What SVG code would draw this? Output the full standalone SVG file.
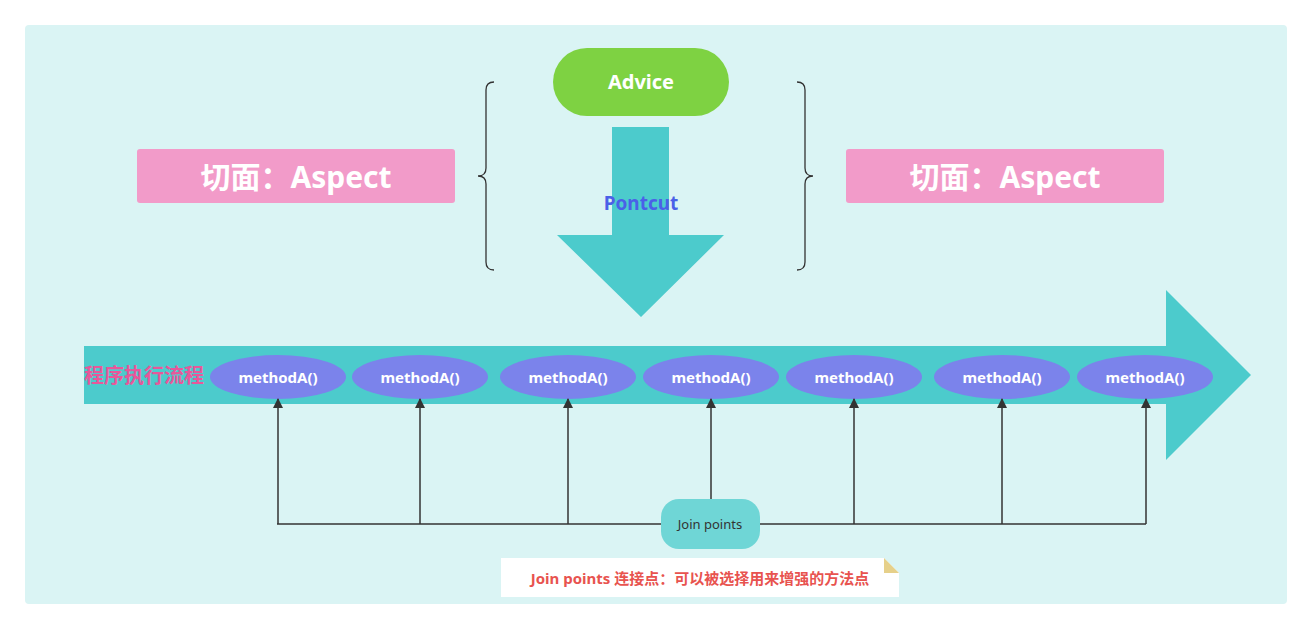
<svg xmlns="http://www.w3.org/2000/svg" width="1312" height="629" viewBox="0 0 1312 629">
<defs>
<style>
.m{fill:#7b83eb}
.mt{font-family:"Noto Sans","Liberation Sans",sans-serif;font-weight:bold;font-size:15px;fill:#ffffff;text-anchor:middle}
.asp{fill:#f29bc9}
.at{font-family:"Noto Sans","Noto Sans CJK SC",sans-serif;font-weight:bold;font-size:30px;fill:#ffffff;text-anchor:middle}
.c{stroke:#333333;stroke-width:1.5;fill:none}
.br{stroke:#333333;stroke-width:1.3;fill:none}
</style>
<marker id="ah" viewBox="0 0 10 10" refX="9" refY="5" markerWidth="10" markerHeight="10" markerUnits="userSpaceOnUse" orient="auto">
<path d="M0,0 L10,5 L0,10 z" fill="#333333"/>
</marker>
</defs>
<rect width="1312" height="629" fill="#ffffff"/>
<rect x="25" y="25" width="1262" height="579" rx="4" fill="#daf4f4"/>

<g id="flow">
<polygon points="84,346 1166,346 1166,290 1251,375 1166,460 1166,404 84,404" fill="#4ccbcc"/>
<text x="84" y="383" font-family="Noto Sans CJK SC,sans-serif" font-weight="bold" font-size="20" fill="#e8579a">程序执行流程</text>
</g>

<g id="pointcut">
<polygon points="612,127 669,127 669,235 724,235 641,317 557,235 612,235" fill="#4ccbcc"/>
<text x="641" y="210" font-family="Noto Sans,Liberation Sans,sans-serif" font-weight="bold" font-size="19" fill="#4a60e8" text-anchor="middle">Pontcut</text>
</g>

<g id="advice">
<rect x="553" y="48" width="176" height="68" rx="34" fill="#7ed242"/>
<text x="641" y="89" font-family="Noto Sans,Liberation Sans,sans-serif" font-weight="bold" font-size="20" fill="#ffffff" text-anchor="middle">Advice</text>
</g>

<g id="braces">
<path class="br" d="M494,82 Q486,82 486,90 L486,168 Q486,176 478,176 Q486,176 486,184 L486,262 Q486,270 494,270"/>
<path class="br" d="M797,82 Q805,82 805,90 L805,168 Q805,176 813,176 Q805,176 805,184 L805,262 Q805,270 797,270"/>
</g>

<g id="aspect-left">
<rect class="asp" x="137" y="149" width="318" height="54" rx="3"/>
<text class="at" x="296" y="188">切面：Aspect</text>
</g>
<g id="aspect-right">
<rect class="asp" x="846" y="149" width="318" height="54" rx="3"/>
<text class="at" x="1005" y="188">切面：Aspect</text>
</g>

<g id="m1"><ellipse class="m" cx="278" cy="377" rx="68" ry="22"/><text class="mt" x="278" y="383">methodA()</text></g>
<g id="m2"><ellipse class="m" cx="420" cy="377" rx="68" ry="22"/><text class="mt" x="420" y="383">methodA()</text></g>
<g id="m3"><ellipse class="m" cx="568" cy="377" rx="68" ry="22"/><text class="mt" x="568" y="383">methodA()</text></g>
<g id="m4"><ellipse class="m" cx="711" cy="377" rx="68" ry="22"/><text class="mt" x="711" y="383">methodA()</text></g>
<g id="m5"><ellipse class="m" cx="854" cy="377" rx="68" ry="22"/><text class="mt" x="854" y="383">methodA()</text></g>
<g id="m6"><ellipse class="m" cx="1002" cy="377" rx="68" ry="22"/><text class="mt" x="1002" y="383">methodA()</text></g>
<g id="m7"><ellipse class="m" cx="1145" cy="377" rx="68" ry="22"/><text class="mt" x="1145" y="383">methodA()</text></g>

<g id="connectors">
<path class="c" d="M277,524 L1146,524"/>
<path class="c" d="M278,524 L278,399" marker-end="url(#ah)"/>
<path class="c" d="M420,524 L420,399" marker-end="url(#ah)"/>
<path class="c" d="M568,524 L568,399" marker-end="url(#ah)"/>
<path class="c" d="M711,499 L711,399" marker-end="url(#ah)"/>
<path class="c" d="M854,524 L854,399" marker-end="url(#ah)"/>
<path class="c" d="M1002,524 L1002,399" marker-end="url(#ah)"/>
<path class="c" d="M1146,524 L1146,399" marker-end="url(#ah)"/>
</g>

<g id="joinpoints">
<rect x="661" y="499" width="99" height="50" rx="18" fill="#6fd6d6"/>
<text x="710" y="529" font-family="Noto Sans,Liberation Sans,sans-serif" font-size="13" fill="#333333" text-anchor="middle">Join points</text>
</g>

<g id="note">
<polygon points="501,558 884,558 899,573 899,597 501,597" fill="#ffffff"/>
<polygon points="884,558 899,573 884,573" fill="#e6d08a"/>
<text x="700" y="584" font-family="Noto Sans,Noto Sans CJK SC,sans-serif" font-weight="bold" font-size="15" fill="#e8534f" text-anchor="middle">Join points 连接点：可以被选择用来增强的方法点</text>
</g>
</svg>
